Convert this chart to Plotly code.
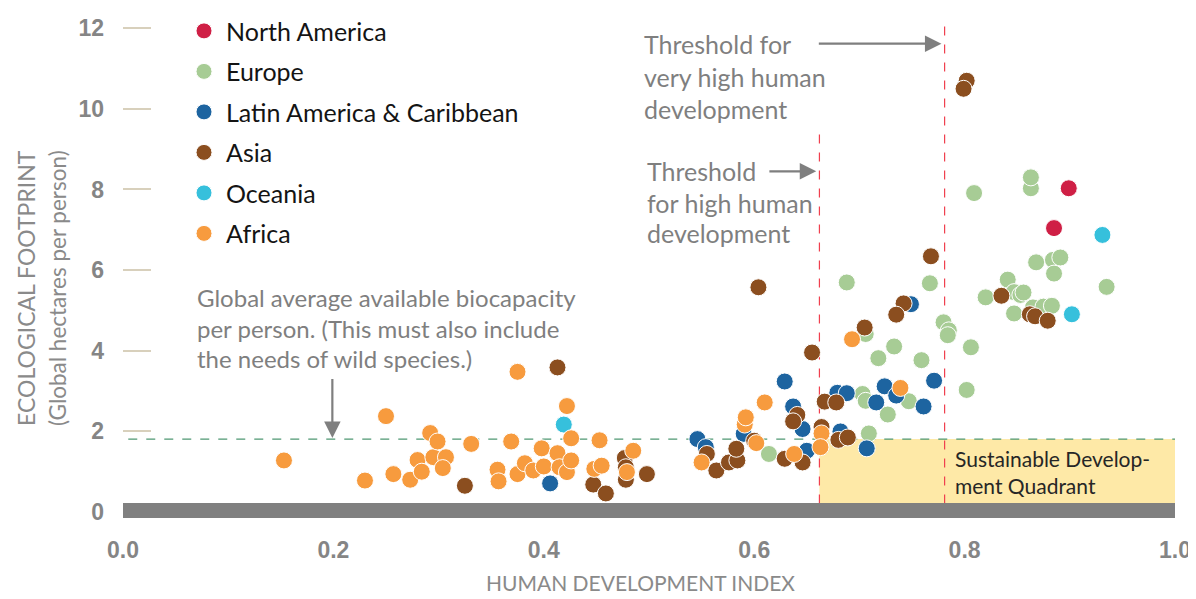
import plotly.graph_objects as go

# ---------------- data ----------------
regions = ["North America", "Europe", "Latin America & Caribbean", "Asia", "Oceania", "Africa"]
colors = {
    "North America": "#cf1f45",
    "Europe": "#a7cc95",
    "Latin America & Caribbean": "#1d64a0",
    "Asia": "#8b4e1f",
    "Oceania": "#36c0dc",
    "Africa": "#f79b3e",
}

na_hdi = [0.899, 0.885]
na_fp = [8.03, 7.04]

eu_hdi = [0.614, 0.688, 0.703, 0.706, 0.706, 0.709, 0.718, 0.727, 0.733, 0.747, 0.759, 0.767,
          0.780, 0.785, 0.784, 0.802, 0.806, 0.809, 0.820, 0.841, 0.847, 0.853, 0.856, 0.847,
          0.865, 0.875, 0.883, 0.863, 0.863, 0.868, 0.884, 0.891, 0.885, 0.935]
eu_fp = [1.43, 5.69, 2.92, 2.75, 4.41, 1.94, 3.81, 2.41, 4.10, 2.74, 3.76, 5.67,
         4.70, 4.50, 4.38, 3.02, 4.08, 7.91, 5.32, 5.76, 5.45, 5.38, 5.44, 4.92,
         5.07, 5.09, 5.11, 8.03, 8.30, 6.19, 6.25, 6.31, 5.91, 5.58]

la_hdi = [0.406, 0.546, 0.554, 0.590, 0.629, 0.637, 0.646, 0.650, 0.679, 0.688, 0.682,
          0.707, 0.716, 0.724, 0.735, 0.749, 0.761, 0.771]
la_fp = [0.70, 1.80, 1.60, 1.93, 3.23, 2.61, 2.05, 1.51, 2.95, 2.94, 1.99,
         1.57, 2.71, 3.11, 2.88, 5.15, 2.61, 3.25]

as_hdi = [0.325, 0.413, 0.447, 0.459, 0.477, 0.478, 0.478, 0.498, 0.555, 0.564, 0.576,
          0.584, 0.583, 0.600, 0.604, 0.629, 0.646, 0.641, 0.637, 0.655, 0.667, 0.678,
          0.664, 0.680, 0.689, 0.705, 0.742, 0.735, 0.768, 0.835, 0.862, 0.867, 0.879,
          0.802, 0.799]
as_fp = [0.64, 3.58, 0.67, 0.45, 1.33, 1.10, 0.79, 0.93, 1.43, 1.02, 1.22,
         1.27, 1.56, 1.76, 5.57, 1.31, 1.22, 2.40, 2.24, 3.95, 2.73, 2.71,
         2.10, 1.78, 1.84, 4.57, 5.17, 4.89, 6.34, 5.36, 4.90, 4.85, 4.74,
         10.70, 10.50]

oc_hdi = [0.419, 0.931, 0.902]
oc_fp = [2.16, 6.87, 4.90]

af_hdi = [0.153, 0.250, 0.230, 0.257, 0.273, 0.280, 0.284, 0.292, 0.295, 0.299, 0.307,
          0.304, 0.331, 0.356, 0.357, 0.369, 0.375, 0.375, 0.382, 0.390, 0.398, 0.400,
          0.413, 0.415, 0.422, 0.422, 0.426, 0.426, 0.448, 0.453, 0.455, 0.485, 0.479,
          0.550, 0.591, 0.592, 0.602, 0.610, 0.638, 0.664, 0.663, 0.693, 0.739]
af_fp = [1.27, 2.37, 0.77, 0.93, 0.79, 1.28, 0.99, 1.95, 1.35, 1.74, 1.35,
         1.08, 1.68, 1.04, 0.75, 1.74, 3.47, 0.93, 1.20, 1.02, 1.57, 1.12,
         1.45, 1.10, 0.98, 2.62, 1.82, 1.27, 1.06, 1.77, 1.14, 1.51, 0.98,
         1.22, 2.16, 2.34, 1.70, 2.71, 1.43, 1.94, 1.60, 4.28, 3.07]

biocapacity = 1.8
threshold_high = 0.662
threshold_very_high = 0.781

x_ticks = [0.0, 0.2, 0.4, 0.6, 0.8, 1.0]
x_ticktext = ["0.0", "0.2", "0.4", "0.6", "0.8", "1.0"]
y_ticks = [0, 2, 4, 6, 8, 10, 12]

series = {
    "North America": (na_hdi, na_fp),
    "Europe": (eu_hdi, eu_fp),
    "Latin America & Caribbean": (la_hdi, la_fp),
    "Asia": (as_hdi, as_fp),
    "Oceania": (oc_hdi, oc_fp),
    "Africa": (af_hdi, af_fp),
}
draw_order = ["Europe", "North America", "Oceania", "Latin America & Caribbean", "Asia", "Africa"]

FONT = "Lato, 'Open Sans', sans-serif"
GRAY = "#7f7f7f"

fig = go.Figure()
for name in draw_order:
    xs, ys = series[name]
    fig.add_trace(go.Scatter(
        x=xs, y=ys, mode="markers", name=name,
        legendgroup=name, legendrank=regions.index(name) + 1,
        marker=dict(size=17, color=colors[name], line=dict(color="white", width=1)),
    ))

shapes = [
    dict(type="rect", xref="x", yref="y", x0=threshold_high, x1=1.0, y0=0, y1=biocapacity,
         fillcolor="#fee9a7", line=dict(width=0), layer="below"),
    dict(type="line", xref="x", yref="y", x0=0.005, x1=1.0, y0=biocapacity, y1=biocapacity,
         line=dict(color="#4f9873", width=1.3, dash="dash"), layer="below"),
    dict(type="line", xref="x", yref="y", x0=threshold_high, x1=threshold_high, y0=0.2, y1=9.53,
         line=dict(color="#f0404f", width=1.2, dash="dash"), layer="below"),
    dict(type="line", xref="x", yref="y", x0=threshold_very_high, x1=threshold_very_high, y0=0.2, y1=12.1,
         line=dict(color="#f0404f", width=1.2, dash="dash"), layer="below"),
    dict(type="rect", xref="x", yref="y", x0=0, x1=1.0, y0=-0.16, y1=0.21,
         fillcolor="#808080", line=dict(width=0), layer="above"),
]

annotations = []

def text_lines(lines, x, ys, size=24, color=GRAY):
    for t, yy in zip(lines, ys):
        annotations.append(dict(x=x, y=yy, xref="x", yref="y", text=t, showarrow=False,
                                xanchor="left", yanchor="middle",
                                font=dict(family=FONT, size=size, color=color)))

text_lines(["Global average available biocapacity", "per person. (This must also include",
            "the needs of wild species.)"], 0.0684, [5.31, 4.54, 3.80], size=24)
text_lines(["Threshold for", "very high human", "development"], 0.493, [11.61, 10.80, 10.01], size=25)
text_lines(["Threshold", "for high human", "development"], 0.496, [8.47, 7.66, 6.91], size=25)
annotations.append(dict(x=0.789, y=0.99, xref="x", yref="y",
                        text="Sustainable Develop-<br>ment Quadrant",
                        showarrow=False, xanchor="left", yanchor="middle", align="left",
                        font=dict(family=FONT, size=21, color="#262626")))

arrow_style = dict(showarrow=True, arrowhead=2, arrowsize=1.5, arrowwidth=2.2, arrowcolor=GRAY,
                   xref="x", yref="y", axref="x", ayref="y", text="")
annotations.append(dict(x=0.199, y=biocapacity + 0.03, ax=0.199, ay=3.33, **arrow_style))
annotations.append(dict(x=threshold_very_high - 0.003, y=11.62, ax=0.660, ay=11.62, **arrow_style))
annotations.append(dict(x=threshold_high - 0.003, y=8.45, ax=0.613, ay=8.45, **arrow_style))

# axis titles (figure is drawn with an 8px page offset, so paper coords account for it)
PW, PH = 1052.0, 522.0
def px_x(sx):  # screen x -> paper x
    return (sx - 123) / PW
def px_y(sy):  # screen y -> paper y
    return (530 - sy) / PH

annotations.append(dict(x=px_x(26), y=px_y(287), xref="paper", yref="paper", text="ECOLOGICAL FOOTPRINT",
                        textangle=-90, showarrow=False, xanchor="center", yanchor="middle",
                        font=dict(family=FONT, size=23, color="#8a8a8a")))
annotations.append(dict(x=px_x(58), y=px_y(287), xref="paper", yref="paper", text="(Global hectares per person)",
                        textangle=-90, showarrow=False, xanchor="center", yanchor="middle",
                        font=dict(family=FONT, size=22.5, color="#8a8a8a")))
annotations.append(dict(x=px_x(640), y=px_y(597.5), xref="paper", yref="paper", text="HUMAN DEVELOPMENT INDEX",
                        showarrow=False, xanchor="center", yanchor="bottom",
                        font=dict(family=FONT, size=21, color="#8a8a8a")))

fig.update_layout(
    width=1188, height=591,
    margin=dict(l=115, r=21, t=0, b=69),
    paper_bgcolor="white", plot_bgcolor="white",
    shapes=shapes, annotations=annotations,
    showlegend=True,
    legend=dict(x=px_x(182), y=1.0036, xanchor="left", yanchor="top", bgcolor="rgba(0,0,0,0)",
                font=dict(family=FONT, size=25, color="#141414"), tracegroupgap=5,
                itemwidth=34, traceorder="grouped"),
    xaxis=dict(range=[0, 1.0], tickvals=x_ticks, ticktext=x_ticktext, showgrid=False,
               zeroline=False, showline=False, ticks="", ticklabelstandoff=4,
               tickfont=dict(family="Liberation Sans, Arial, sans-serif", size=23, color="#858585", weight="bold")),
    yaxis=dict(range=[-0.458, 12.457], tickvals=y_ticks, showgrid=False, zeroline=False,
               showline=False, ticks="inside", ticklen=28, tickwidth=2, tickcolor="#d8d0bc",
               ticklabelstandoff=18,
               tickfont=dict(family="Liberation Sans, Arial, sans-serif", size=23, color="#858585", weight="bold")),
)

fig.write_html("out.html")
